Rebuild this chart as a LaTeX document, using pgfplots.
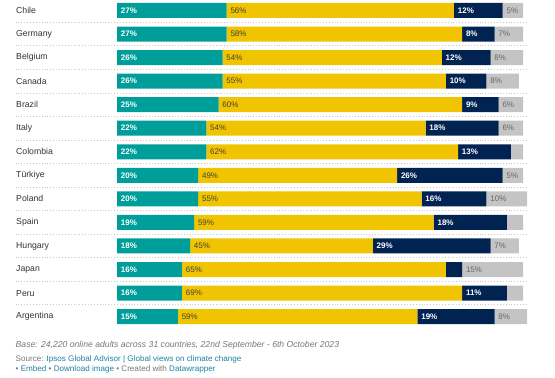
\documentclass[border=0pt]{standalone}
\usepackage{pgfplots}
\usepackage{pgfplotstable}
\pgfplotsset{compat=1.18}
\usepackage{fontspec}
\setmainfont{Liberation Sans}
\definecolor{cteal}{HTML}{009E9A}
\definecolor{cyel}{HTML}{F0C400}
\definecolor{cnavy}{HTML}{002352}
\definecolor{cgray}{HTML}{C4C4C4}
\definecolor{ctext}{HTML}{333333}
\definecolor{cfoot}{HTML}{777777}
\definecolor{clink}{HTML}{1D81A2}
\definecolor{csep}{HTML}{C8C8C8}

\pgfplotstableread{
row a b c d
0 27 56 12 5
1 27 58 8 7
2 26 54 12 8
3 26 55 10 8
4 25 60 9 6
5 22 54 18 6
6 22 62 13 3
7 20 49 26 5
8 20 55 16 10
9 19 59 18 4
10 18 45 29 7
11 16 65 4 15
12 16 69 11 4
13 15 59 19 8
}\bars

\pgfplotsset{
  base/.style={
    at={(117bp,379.3bp)}, anchor=north west,
    x=4.06bp, y=23.55bp, y dir=reverse,
    xmin=0, xmax=101, ymin=-0.5, ymax=13.5,
    axis line style={draw=none}, tick style={draw=none},
    major tick length=0pt, xtick=\empty, clip=false,
    /pgf/number format/assume math mode=true,
  },
  lab/.style={only marks, mark=*, mark size=0pt, mark options={draw=none,fill=none},
    point meta=explicit,
    nodes near coords={\pgfmathprintnumber[fixed,precision=0,assume math mode=true]{\pgfplotspointmeta}\%},
    every node near coord/.style={anchor=west, inner sep=0pt, xshift=3.7bp, #1}},
}

\begin{document}
\begin{tikzpicture}
\begin{axis}[base, xbar stacked, bar width=15bp,
  ytick={0,...,13},
  yticklabels={Chile,Germany,Belgium,Canada,Brazil,Italy,Colombia,Türkiye,Poland,Spain,Hungary,Japan,Peru,Argentina},
  yticklabel style={anchor=west, inner sep=0pt, xshift=-101bp, text=ctext, font=\fontsize{8.7bp}{10bp}\selectfont},
]
\addplot[fill=cteal, draw=none] table[x=a, y=row]{\bars};
\addplot[fill=cyel, draw=none] table[x=b, y=row]{\bars};
\addplot[fill=cnavy, draw=none] table[x=c, y=row]{\bars};
\addplot[fill=cgray, draw=none] table[x=d, y=row]{\bars};
\pgfplotsinvokeforeach{0,...,12}{
  \draw[csep, line width=0.8bp, dash pattern=on 0.9bp off 2bp] (axis cs:-25,#1+0.5) -- (axis cs:101,#1+0.5);
}
\end{axis}
\begin{axis}[base, ytick=\empty]
\addplot[lab={text=white, font=\bfseries\fontsize{8bp}{9bp}\selectfont}] table[x expr=0, y=row, meta=a]{\bars};
\addplot[lab={text=black!75, font=\fontsize{8bp}{9bp}\selectfont}] table[x=a, y=row, meta=b]{\bars};
\addplot[lab={text=white, font=\bfseries\fontsize{8bp}{9bp}\selectfont},
  y filter/.expression={y==11 ? nan : y}] table[x expr=\thisrow{a}+\thisrow{b}, y=row, meta=c]{\bars};
\addplot[lab={text=black!60, font=\fontsize{8bp}{9bp}\selectfont},
  y filter/.expression={(y==6 || y==9 || y==12) ? nan : y}] table[x expr=\thisrow{a}+\thisrow{b}+\thisrow{c}, y=row, meta=d]{\bars};
\end{axis}
\node[anchor=west, inner sep=0pt, text=cfoot, font=\itshape\fontsize{8.65bp}{9bp}\selectfont] at (15.5bp,33bp)
  {Base: 24,220 online adults across 31 countries, 22nd September - 6th October 2023};
\node[anchor=west, inner sep=0pt, font=\fontsize{8.1bp}{9bp}\selectfont] at (15.5bp,18.7bp)
  {\textcolor{cfoot}{Source:} \textcolor{clink}{Ipsos Global Advisor | Global views on climate change}};
\node[anchor=west, inner sep=0pt, font=\fontsize{8.1bp}{9bp}\selectfont] at (15.5bp,8.5bp)
  {\textcolor{cfoot}{•} \textcolor{clink}{Embed} \textcolor{cfoot}{•} \textcolor{clink}{Download image} \textcolor{cfoot}{• Created with} \textcolor{clink}{Datawrapper}};
\pgfresetboundingbox
\path[use as bounding box] (0,0) rectangle (555bp,378bp);
\end{tikzpicture}
\end{document}
